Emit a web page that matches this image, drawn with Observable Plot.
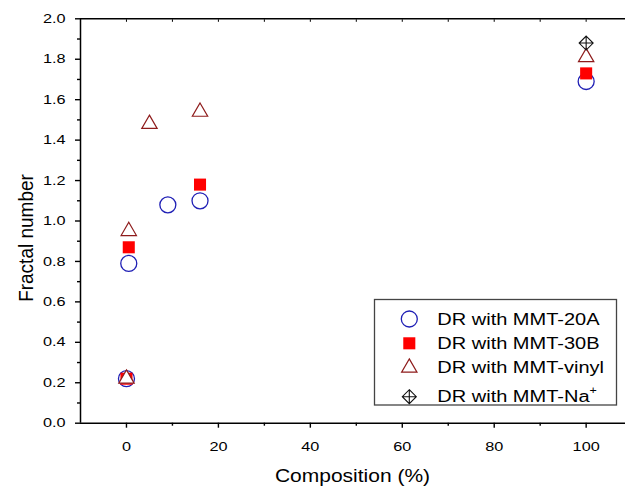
<!DOCTYPE html>
<html><head><meta charset="utf-8">
<script src="https://cdn.jsdelivr.net/npm/d3@7"></script>
<script src="https://cdn.jsdelivr.net/npm/@observablehq/plot@0.6"></script>
<style>body{margin:0;background:#fff;} svg{display:block}</style>
</head><body><div id="chart"></div>
<script>
// ---- data ----
const seriesNames = ["DR with MMT-20A", "DR with MMT-30B", "DR with MMT-vinyl", "DR with MMT-Na"];
const seriesSup = ["", "", "", "+"];
const x20A = [0, 0.5, 9, 16, 100];
const y20A = [0.22, 0.79, 1.08, 1.10, 1.69];
const x30B = [0, 0.5, 16, 100];
const y30B = [0.22, 0.87, 1.18, 1.73];
const xVinyl = [0, 0.5, 5, 16, 100];
const yVinyl = [0.22, 0.95, 1.48, 1.54, 1.81];
const xNa = [100];
const yNa = [1.88];
const xTicks = [0, 20, 40, 60, 80, 100];
const xMinorTicks = [10, 30, 50, 70, 90];
const xTopTicks = [0, 10, 20, 30, 40, 50, 60, 70, 80, 90, 100];
const yTicks = [0, 0.2, 0.4, 0.6, 0.8, 1.0, 1.2, 1.4, 1.6, 1.8, 2.0];
const yMinorTicks = [0.1, 0.3, 0.5, 0.7, 0.9, 1.1, 1.3, 1.5, 1.7, 1.9];
const xTitle = "Composition (%)";
const yTitle = "Fractal number";

const toRows = (xs, ys) => xs.map((x, i) => ({x, y: ys[i]}));

const blue = "#1f1fb5", red = "#ff0000", wine = "#8e1b1b", black = "#111";
const FONT = "'Liberation Sans', Arial, Helvetica, sans-serif";
const SX = 1.25;

const diamondCross = {
  draw(ctx, size) {
    const r = Math.sqrt(size / Math.PI);
    ctx.moveTo(0, -r); ctx.lineTo(r, 0); ctx.lineTo(0, r); ctx.lineTo(-r, 0); ctx.closePath();
    ctx.moveTo(0, -r); ctx.lineTo(0, r);
    ctx.moveTo(-r, 0); ctx.lineTo(r, 0);
  }
};

const styles = [
  {symbol: "circle", r: 8, stroke: blue, fill: "none", strokeWidth: 1.3},
  {symbol: "square", r: 6.8, stroke: "none", fill: red, strokeWidth: 0},
  {symbol: "triangle", r: 5.7, stroke: wine, fill: "white", strokeWidth: 1.2},
  {symbol: diamondCross, r: 7, stroke: black, fill: "none", strokeWidth: 1.1}
];
const datasets = [toRows(x20A, y20A), toRows(x30B, y30B), toRows(xVinyl, yVinyl), toRows(xNa, yNa)];

const svg = Plot.plot({
  width: 625, height: 491,
  marginLeft: 80, marginRight: 0, marginTop: 18.3, marginBottom: 68.3,
  style: {fontFamily: FONT, fontSize: "13px", background: "white", color: "#000", overflow: "visible"},
  x: {domain: [-10, 108.56], label: null},
  y: {domain: [0, 2], label: null},
  marks: [
    Plot.axisX({ticks: xTicks, tickSize: 5, tickPadding: 14, tickFormat: d3.format("d"), strokeWidth: 1.4, label: null, fontSize: 13}),
    Plot.axisX({ticks: xMinorTicks, tickSize: 3, fill: "none", strokeWidth: 1.4, label: null}),
    Plot.axisX({anchor: "top", ticks: xTopTicks, tickSize: -2.5, fill: "none", strokeWidth: 1, label: null}),
    Plot.axisY({ticks: yTicks, tickSize: 5, tickPadding: 10, tickFormat: d3.format(".1f"), strokeWidth: 1.4, label: null, fontSize: 13}),
    Plot.axisY({ticks: yMinorTicks, tickSize: 3, fill: "none", strokeWidth: 1.4, label: null}),
    Plot.ruleX([-10], {strokeWidth: 1.5}),
    Plot.ruleY([0], {strokeWidth: 1.5}),
    Plot.ruleY([2], {strokeWidth: 1.5}),
    ...datasets.map((d, i) => Plot.dot(d, {x: "x", y: "y", ...styles[i]}))
  ]
});

document.getElementById("chart").appendChild(svg);

// horizontally stretched text like the reference (keeps position/anchor)
function stretch(t, k) {
  const len = t.getComputedTextLength();
  if (len > 0) {
    t.setAttribute("textLength", (len * k).toFixed(2));
    t.setAttribute("lengthAdjust", "spacingAndGlyphs");
  }
}
svg.querySelectorAll('g[aria-label="x-axis tick label"] text, g[aria-label="y-axis tick label"] text')
  .forEach(t => stretch(t, SX));

const S = d3.select(svg);
// axis titles
S.append("text").attr("transform", `translate(352.5,482) scale(1.2,1)`)
  .attr("text-anchor", "middle").attr("font-family", FONT).attr("font-size", 17.5).attr("fill", "#000").text(xTitle);
S.append("text").attr("transform", `translate(33,238) rotate(-90) scale(1,1.1)`)
  .attr("text-anchor", "middle").attr("font-family", FONT).attr("font-size", 19).attr("fill", "#000").text(yTitle);

// legend
const L = S.append("g").attr("text-anchor", "start");
L.append("rect").attr("x", 374.5).attr("y", 299.5).attr("width", 242).attr("height", 105.5)
  .attr("fill", "white").attr("stroke", "#444").attr("stroke-width", 1.3);
const symY = [319, 343.3, 367.7, 396.7];
const txtY = [325, 349.3, 373.3, 402.3];
const d3Sym = [d3.symbolCircle, d3.symbolSquare, d3.symbolTriangle, diamondCross];
seriesNames.forEach((name, i) => {
  const st = styles[i];
  L.append("path").attr("transform", `translate(409.3,${symY[i]})`)
    .attr("d", d3.symbol(d3Sym[i], Math.PI * st.r * st.r)())
    .attr("fill", st.fill).attr("stroke", st.stroke).attr("stroke-width", st.strokeWidth);
  const t = L.append("text").attr("transform", `translate(437.3,${txtY[i]}) scale(${SX},1)`)
    .attr("text-anchor", "start")
    .attr("font-family", FONT).attr("font-size", 16).attr("fill", "#000");
  t.append("tspan").text(name);
  if (seriesSup[i]) t.append("tspan").attr("font-size", 10).attr("dy", -8).text(seriesSup[i]);
});
</script>
</body></html>
